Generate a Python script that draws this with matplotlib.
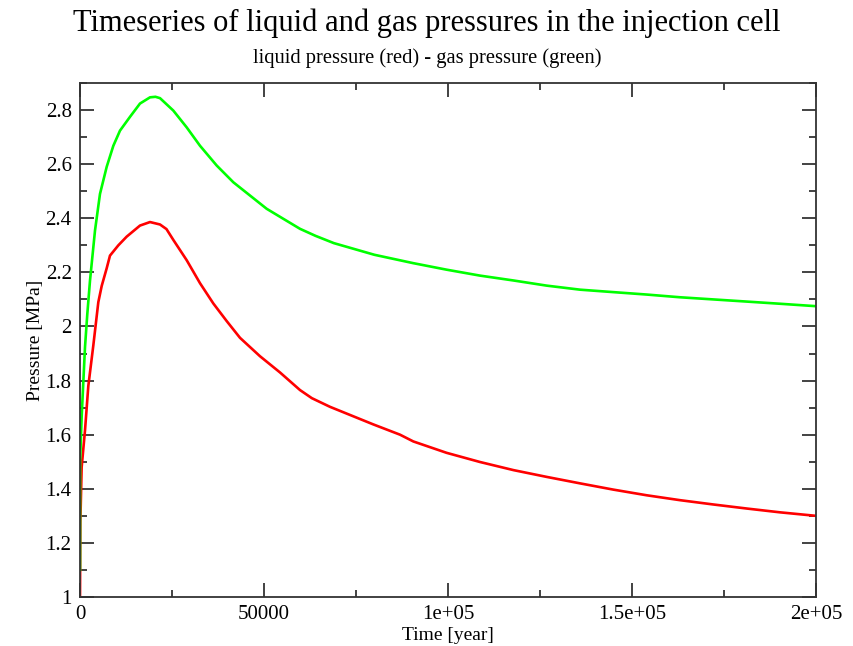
import matplotlib
matplotlib.use("Agg")
import matplotlib.pyplot as plt
from matplotlib.ticker import MultipleLocator, FixedLocator, FixedFormatter

# Injection cell pressure history [MPa] versus time [year]
gas_time = [0, 30, 450, 1360, 1990, 2720, 4080, 5430, 7250, 9060, 10870,
            13590, 16300, 19020, 20500, 21740, 25360, 28990, 32610, 37140,
            41670, 46200, 50730, 55250, 59780, 64000, 69000, 80000, 90580,
            99600, 108700, 117800, 126800, 135900, 144900, 154000, 163000,
            172100, 181200, 190200, 200000]
gas_pressure = [1.10, 1.506, 1.666, 1.924, 2.047, 2.17, 2.355, 2.49, 2.59,
                2.668, 2.724, 2.775, 2.824, 2.847, 2.849, 2.844, 2.798, 2.736,
                2.668, 2.595, 2.533, 2.484, 2.435, 2.398, 2.361, 2.335, 2.308,
                2.265, 2.234, 2.21, 2.188, 2.17, 2.151, 2.136, 2.127, 2.118,
                2.108, 2.10, 2.092, 2.084, 2.075]

liquid_time = [0, 100, 450, 1360, 2260, 3620, 4980, 5900, 7250, 8150, 10420,
               12680, 16300, 19020, 21740, 23500, 25360, 28990, 32610, 36230,
               39860, 43480, 48910, 54350, 59780, 63000, 67930, 73000, 79700,
               86960, 90580, 99600, 108700, 117800, 126800, 135900, 144900,
               154000, 163000, 172100, 181200, 190200, 200000]
liquid_pressure = [1.00, 1.28, 1.48, 1.616, 1.78, 1.93, 2.09, 2.15, 2.215,
                   2.262, 2.30, 2.332, 2.373, 2.386, 2.377, 2.36, 2.32, 2.245,
                   2.16, 2.085, 2.02, 1.958, 1.89, 1.83, 1.765, 1.735, 1.703,
                   1.675, 1.638, 1.600, 1.575, 1.533, 1.499, 1.469, 1.444,
                   1.42, 1.397, 1.376, 1.358, 1.342, 1.327, 1.313, 1.30]

x_ticks = [0, 50000, 100000, 150000, 200000]
x_tick_labels = ["0", "50000", "1e+05", "1.5e+05", "2e+05"]
y_ticks = [1.0, 1.2, 1.4, 1.6, 1.8, 2.0, 2.2, 2.4, 2.6, 2.8]
y_tick_labels = ["1", "1.2", "1.4", "1.6", "1.8", "2", "2.2", "2.4", "2.6", "2.8"]

plt.rcParams["font.family"] = ["Liberation Serif", "DejaVu Serif"]

fig = plt.figure(figsize=(8.54, 6.46), dpi=100)
ax = fig.add_axes([80 / 854, 49 / 646, 736 / 854, 514 / 646])

ax.plot(liquid_time, liquid_pressure, color="#ff0000", lw=1.9)
ax.plot(gas_time, gas_pressure, color="#00ff00", lw=1.9)

ax.set_xlim(0, 200000)
ax.set_ylim(1.0, 2.9)

ax.xaxis.set_major_locator(FixedLocator(x_ticks))
ax.xaxis.set_major_formatter(FixedFormatter(x_tick_labels))
ax.xaxis.set_minor_locator(MultipleLocator(25000))
ax.yaxis.set_major_locator(FixedLocator(y_ticks))
ax.yaxis.set_major_formatter(FixedFormatter(y_tick_labels))
ax.yaxis.set_minor_locator(MultipleLocator(0.1))

ax.tick_params(which="both", direction="in", top=True, right=True,
               color="#222222", width=1.2, labelsize=15)
ax.tick_params(which="major", length=10, pad=6)
ax.tick_params(which="minor", length=5)
for s in ax.spines.values():
    s.set_color("#333333")
    s.set_linewidth(1.3)

ax.set_xlabel("Time [year]", fontsize=14, labelpad=2)
ax.set_ylabel("Pressure [MPa]", fontsize=14, labelpad=1)

fig.text(0.5, 1 - 23 / 646, "Timeseries of liquid and gas pressures in the injection cell",
         ha="center", va="center", fontsize=22)
fig.text(0.5, 1 - 58 / 646, "liquid pressure (red) - gas pressure (green)",
         ha="center", va="center", fontsize=14.8)

fig.savefig("out.png", dpi=100, facecolor="white")
